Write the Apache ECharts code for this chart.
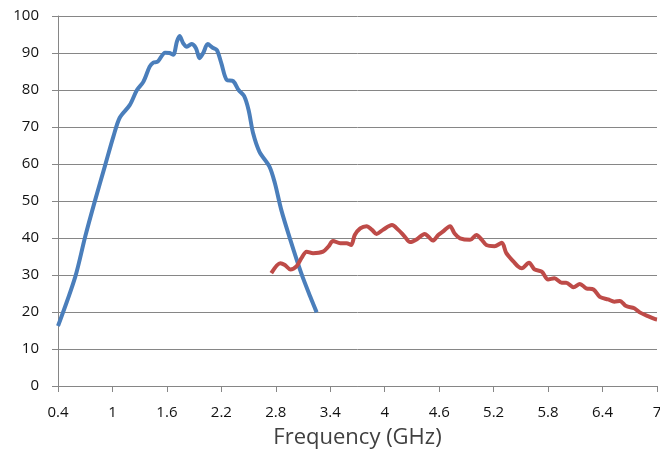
<!DOCTYPE html>
<html>
<head>
<meta charset="utf-8">
<script src="https://cdn.jsdelivr.net/npm/echarts@6/dist/echarts.min.js"></script>
<style>
html, body { margin: 0; padding: 0; background: #fff; }
#chart { width: 660px; height: 452px; }
</style>
</head>
<body>
<div id="chart"></div>
<script>
// 蓝线 频率 / 数值
var blueFreq = [0.4, 0.59, 0.7, 0.81, 0.92, 1.01, 1.08, 1.19, 1.27, 1.34, 1.41, 1.45, 1.5, 1.58, 1.63, 1.67,
	1.71, 1.74, 1.78, 1.82, 1.87, 1.92, 1.96, 2.0, 2.05, 2.1, 2.15, 2.2, 2.26, 2.33, 2.39, 2.45, 2.5, 2.55,
	2.62, 2.73, 2.79, 2.86, 2.96, 3.08, 3.18, 3.25];
var blueVal = [16.2, 29.5, 40.4, 50.3, 59.7, 67.4, 72.5, 75.9, 80, 82.2, 86.3, 87.4, 87.7, 90.1, 90, 89.5,
	93.1, 94.6, 92.6, 91.7, 92.4, 91.3, 88.6, 90, 92.4, 91.5, 90.8, 87.2, 82.7, 82.4, 80, 78.4, 74.6, 68.3,
	63.3, 59.3, 54.8, 47.6, 39.5, 30.5, 24.1, 19.9];

// 红线 频率 / 数值
var redFreq = [2.75, 2.85, 2.9, 2.96, 3.03, 3.08, 3.14, 3.21, 3.32, 3.38, 3.43, 3.51, 3.58, 3.63, 3.67, 3.73,
	3.8, 3.86, 3.91, 3.98, 4.08, 4.15, 4.22, 4.28, 4.35, 4.44, 4.48, 4.53, 4.59, 4.64, 4.72, 4.77, 4.83,
	4.94, 5.01, 5.07, 5.12, 5.21, 5.29, 5.34, 5.42, 5.47, 5.51, 5.59, 5.65, 5.73, 5.8, 5.87, 5.95, 6.0,
	6.08, 6.15, 6.22, 6.3, 6.37, 6.46, 6.53, 6.59, 6.66, 6.75, 6.81, 6.9, 6.98, 7.0];
var redVal = [30.5, 33.2, 32.7, 31.5, 32.4, 34.5, 36.3, 35.9, 36.3, 37.7, 39.2, 38.6, 38.6, 38.1, 40.8, 42.6,
	43.2, 42.2, 41.1, 42.2, 43.5, 42.2, 40.4, 38.9, 39.6, 41.1, 40.4, 39.3, 40.8, 41.7, 43.2, 41.2, 39.9,
	39.5, 40.8, 39.5, 38.1, 37.8, 38.7, 35.9, 33.6, 32.3, 31.8, 33.3, 31.5, 30.9, 28.8, 29.1, 27.9, 27.9,
	26.7, 27.6, 26.4, 26.1, 24.1, 23.4, 22.8, 23, 21.6, 21, 19.9, 18.9, 18.1, 18];

function pairs(xs, ys) {
	var arr = [];
	for (var i = 0; i < xs.length; i++) {
		arr.push([xs[i], ys[i]]);
	}
	return arr;
}

var chart = echarts.init(document.getElementById('chart'), null, { renderer: 'canvas' });

var option = {
	animation: false,
	textStyle: { fontFamily: 'Open Sans' },
	// 不让标签挤压绘图区
	grid: { left: 58, right: 3, top: 16, bottom: 66, outerBoundsMode: 'none', containLabel: false },
	xAxis: {
		type: 'value',
		min: 0.4,
		max: 7,
		interval: 0.6,
		name: 'Frequency (GHz)',
		nameLocation: 'middle',
		nameGap: 41,
		nameTextStyle: { fontSize: 22, color: '#404040' },
		axisLine: { lineStyle: { color: '#868686', width: 1 } },
		axisTick: { show: true, length: 6, lineStyle: { color: '#868686' } },
		axisLabel: {
			color: '#111',
			fontSize: 15,
			margin: 19,
			formatter: function (v) { return String(+v.toFixed(1)); }
		},
		splitLine: { show: false }
	},
	yAxis: {
		type: 'value',
		min: 0,
		max: 100,
		interval: 10,
		axisLine: { show: true, lineStyle: { color: '#868686', width: 1 } },
		axisTick: { show: true, length: 6, lineStyle: { color: '#868686' } },
		axisLabel: { color: '#111', fontSize: 15, margin: 19 },
		splitLine: { lineStyle: { color: '#868686', width: 1 } }
	},
	series: [{
		type: 'line',
		data: pairs(blueFreq, blueVal),
		smooth: 0.3,
		showSymbol: false,
		lineStyle: { color: '#4a7ebb', width: 4 }
	}, {
		type: 'line',
		data: pairs(redFreq, redVal),
		smooth: 0.3,
		showSymbol: false,
		lineStyle: { color: '#be4b48', width: 4 }
	}]
};

chart.setOption(option);
</script>
</body>
</html>
